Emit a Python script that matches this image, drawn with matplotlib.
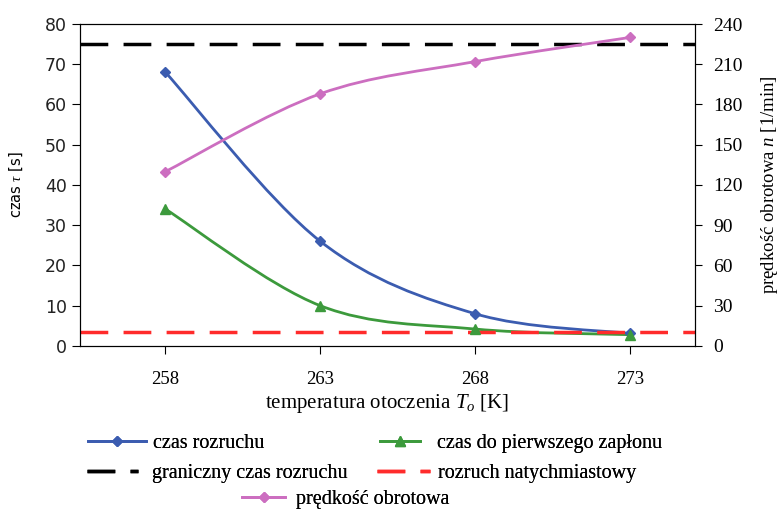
import matplotlib
matplotlib.use("Agg")
import matplotlib.pyplot as plt
from matplotlib.path import Path
from matplotlib.patches import PathPatch
from matplotlib.lines import Line2D

# data
temps = [258, 263, 268, 273]
czas_rozruchu = [68, 26, 8, 3.1]
czas_zaplonu = [34, 10, 4.2, 2.8]
predkosc = [130, 188, 212, 230]
graniczny = 75
natychmiastowy = 3.4

BLUE = "#3b5cb0"
GREEN = "#3c9a3c"
PINK = "#cc6ec0"
RED = "#ff2b2b"
SERIF = "Liberation Serif"

plt.rcParams["mathtext.fontset"] = "custom"
plt.rcParams["mathtext.rm"] = SERIF
plt.rcParams["mathtext.it"] = SERIF + ":italic"


def smooth_path(xs, ys):
    # Excel-style smoothed line as cubic bezier segments through the points
    verts = [(xs[0], ys[0])]
    codes = [Path.MOVETO]
    n = len(xs)
    for i in range(n - 1):
        x0, y0 = xs[max(i - 1, 0)], ys[max(i - 1, 0)]
        x1, y1 = xs[i], ys[i]
        x2, y2 = xs[i + 1], ys[i + 1]
        x3, y3 = xs[min(i + 2, n - 1)], ys[min(i + 2, n - 1)]
        c1 = (x1 + (x2 - x0) / 6, y1 + (y2 - y0) / 6)
        c2 = (x2 - (x3 - x1) / 6, y2 - (y3 - y1) / 6)
        verts += [c1, c2, (x2, y2)]
        codes += [Path.CURVE4] * 3
    return Path(verts, codes)


def draw_series(ax, xs, ys, color, marker, ms):
    ax.add_patch(PathPatch(smooth_path(xs, ys), fill=False, edgecolor=color, lw=2))
    ax.plot(xs, ys, linestyle="none", marker=marker, color=color, markersize=ms)


fig = plt.figure(figsize=(7.79, 5.11), dpi=100)
ax = fig.add_axes([0.1027, 0.323, 0.7895, 0.630])
ax2 = ax.twinx()

ax.axhline(graniczny, color="black", lw=2.5, dashes=(8, 4.4))
ax.axhline(natychmiastowy, color=RED, lw=2.5, dashes=(8, 4.4))
draw_series(ax, temps, czas_rozruchu, BLUE, "D", 5)
draw_series(ax, temps, czas_zaplonu, GREEN, "^", 7)
draw_series(ax2, temps, predkosc, PINK, "D", 5)

ax.set_xlim(255.24, 275.1)
ax.set_ylim(0, 80)
ax2.set_ylim(0, 240)
ax.set_xticks(temps)
ax.set_yticks(range(0, 81, 10))
ax2.set_yticks(range(0, 241, 30))

ax.tick_params(axis="y", labelsize=12.5, length=6, pad=3.5, labelcolor="#222222")
ax.tick_params(axis="x", length=6, pad=12)
ax2.tick_params(axis="y", length=5, pad=8)
for lab in ax.get_xticklabels():
    lab.set_fontfamily(SERIF)
    lab.set_fontsize(13.5)
for lab in ax2.get_yticklabels():
    lab.set_fontfamily(SERIF)
    lab.set_fontsize(14)

ax.set_ylabel(r"czas $\tau$ [s]", fontsize=10.5, labelpad=14)
ax2.set_ylabel(r"prędkość obrotowa $n$ [1/min]", fontsize=13.5, family=SERIF, labelpad=12)
ax.set_xlabel(r"temperatura otoczenia $T_o$ [K]", fontsize=15, family=SERIF, labelpad=3)

W, H = 779, 511
legend_items = [
    # handle, label, handle start x, row y, handle length, text pad
    (Line2D([], [], color=BLUE, lw=2, marker="D", markersize=5), "czas rozruchu", 88, 443, 2.9, 0.35),
    (Line2D([], [], color=GREEN, lw=2, marker="^", markersize=7), "czas do pierwszego zapłonu", 380, 443, 2.0, 0.85),
    (Line2D([], [], color="black", lw=2.5, dashes=(8, 4.4)), "graniczny czas rozruchu", 87, 473, 2.55, 0.7),
    (Line2D([], [], color=RED, lw=2.5, dashes=(8, 4.4)), "rozruch natychmiastowy", 377, 473, 2.65, 0.4),
    (Line2D([], [], color=PINK, lw=2, marker="D", markersize=5), "prędkość obrotowa", 242, 499, 2.15, 0.55),
]
for h, lab, x0, y0, hl, tp in legend_items:
    leg = fig.legend([h], [lab], loc="center left", bbox_to_anchor=(x0 / W, 1 - y0 / H),
                     frameon=False, prop={"family": SERIF, "size": 14.5},
                     handlelength=hl, handletextpad=tp, borderpad=0, borderaxespad=0)
    fig.add_artist(leg)

fig.savefig("out.png", dpi=100)
